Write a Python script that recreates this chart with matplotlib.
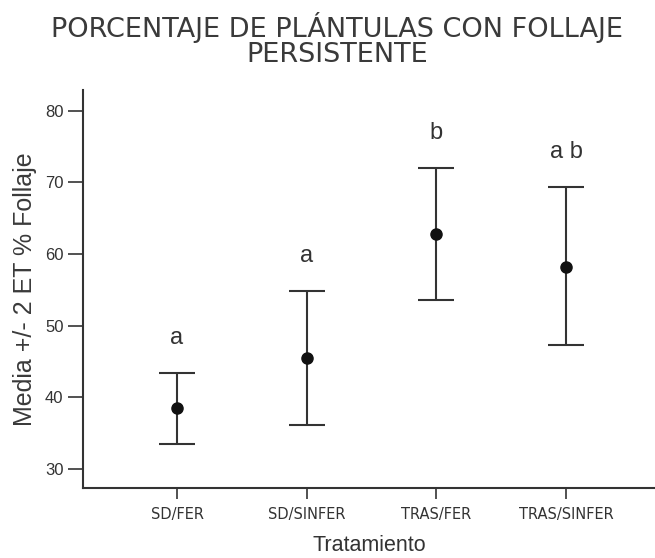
import matplotlib
matplotlib.use("Agg")
import matplotlib.pyplot as plt
import numpy as np

# Tratamientos y media +/- 2 ET del % de plántulas con follaje persistente
tratamientos = ["SD/FER", "SD/SINFER", "TRAS/FER", "TRAS/SINFER"]
media = [38.45, 45.45, 62.8, 58.25]
limite_inf = [33.45, 36.15, 53.55, 47.3]
limite_sup = [43.45, 54.85, 72.0, 69.3]
letras = ["a", "a", "b", "a b"]

plt.rcParams['font.family'] = ['Liberation Sans', 'DejaVu Sans']

fig = plt.figure(figsize=(6.55, 5.58), dpi=100)
ax = fig.add_axes([83/655, 70/558, 1 - 83/655, (488 - 90)/558])

x = np.arange(1, len(tratamientos) + 1)
media = np.array(media)
err = [media - np.array(limite_inf), np.array(limite_sup) - media]
ax.errorbar(x, media, yerr=err, fmt='o', color='#111111', ecolor='#333333',
            elinewidth=1.5, capsize=13, capthick=1.5, markersize=8)

# letras de significancia sobre cada barra de error
for xi, sup, txt in zip(x, limite_sup, letras):
    ax.text(xi, sup + 4.9, txt, ha='center', va='center', fontsize=17,
            color='#333333')

ax.set_xlim(0.275, 4.686)
ax.set_ylim(27.35, 82.9)
ax.set_xticks(x)
ax.set_xticklabels(tratamientos, fontsize=10.5, family='DejaVu Sans')
ax.set_yticks([30, 40, 50, 60, 70, 80])
ax.tick_params(axis='y', labelsize=12, length=11, width=1.2, colors='#333333',
               labelcolor='#333333', pad=3)
ax.tick_params(axis='x', length=8, width=1.2, colors='#333333',
               labelcolor='#333333', pad=6)

for side in ['top', 'right']:
    ax.spines[side].set_visible(False)
for side in ['left', 'bottom']:
    ax.spines[side].set_linewidth(1.5)
    ax.spines[side].set_color('#333333')

ax.set_xlabel("Tratamiento", fontsize=15.5, color='#333333', labelpad=9)
ax.set_ylabel("Media +/- 2 ET % Follaje", fontsize=18, color='#3a3a3a',
              labelpad=6)

fig.text(0.515, 0.978, "PORCENTAJE DE PLÁNTULAS CON FOLLAJE\nPERSISTENTE",
         ha='center', va='top', fontsize=19.5, color='#3a3a3a',
         family='DejaVu Sans', linespacing=0.92)

fig.savefig("out.png", dpi=100)
